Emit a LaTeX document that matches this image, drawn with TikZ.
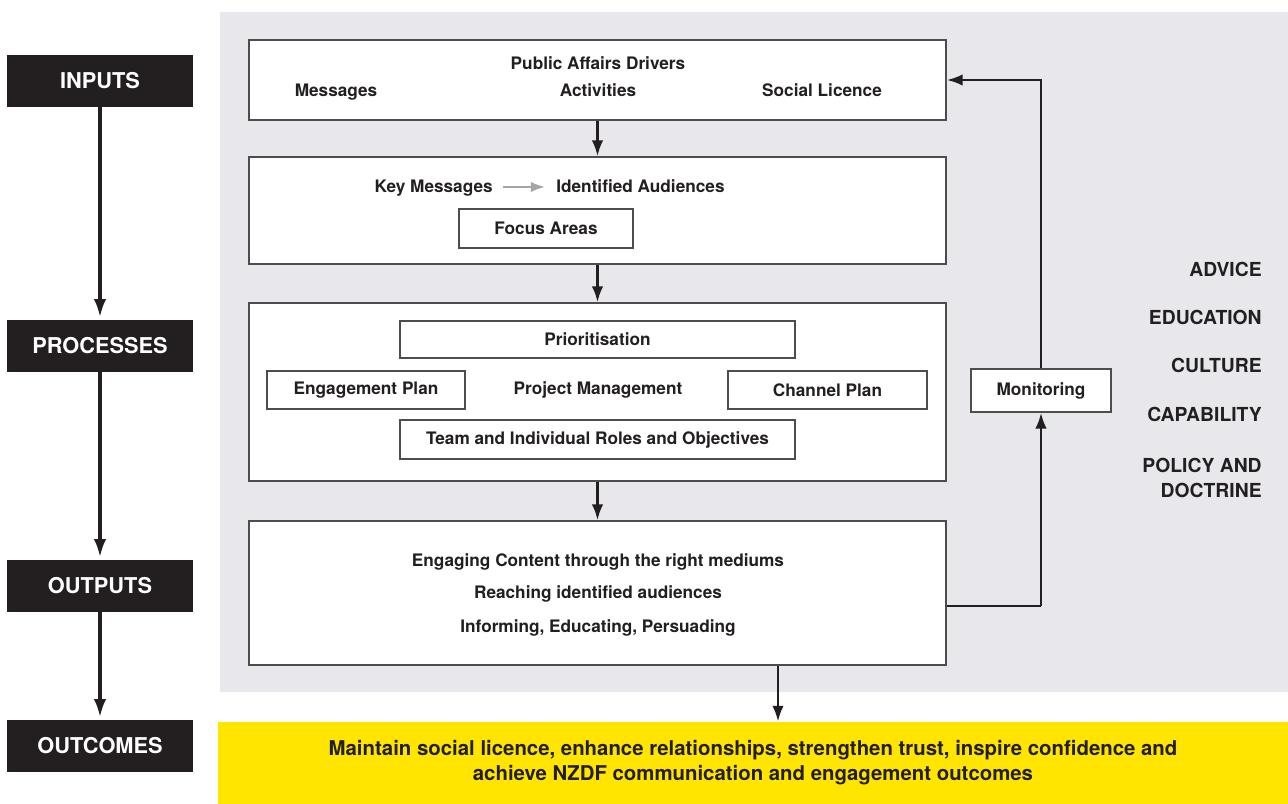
\documentclass[tikz,border=0pt]{standalone}
\usepackage{fontspec}
\setmainfont{TeX Gyre Heros}
\usetikzlibrary{arrows.meta,positioning}

\definecolor{panelgray}{HTML}{E8E8EC}
\definecolor{nzyellow}{HTML}{FFE500}
\definecolor{ink}{HTML}{231F20}
\newlength\px \setlength\px{0.02cm}

\begin{document}
\begin{tikzpicture}[x=0.02cm, y=-0.02cm,
  stage/.style={fill=ink, text=white, font=\fontsize{12.4}{14}\selectfont\bfseries,
    minimum width=186\px, minimum height=52\px, inner sep=0pt},
  block/.style={draw=ink!80, line width=0.8pt, fill=white, minimum width=697\px, inner sep=0pt},
  item/.style={draw=ink!80, line width=0.8pt, fill=white, inner sep=0pt, text=ink,
    font=\fontsize{9.8}{12}\selectfont\bfseries},
  txt/.style={font=\fontsize{9.8}{12}\selectfont\bfseries, text=ink, inner sep=0pt,
    text height=1.6ex, text depth=0.45ex},
  theme/.style={anchor=east, align=right, font=\fontsize{11}{14.2}\selectfont\bfseries, text=ink, inner sep=0pt},
  flow/.style={-{Latex[length=9pt,width=6.5pt]}, line width=1.5pt, draw=ink},
  spine/.style={-{Latex[length=10.5pt,width=7pt]}, line width=2.2pt, draw=ink, shorten >=2\px}]
  \useasboundingbox (0,0) rectangle (1288,804);

  % --- 1. Background panel and outcome band ---
  \fill[panelgray] (220,12) rectangle (1288,692);
  \node[fill=nzyellow, minimum width=1070\px, minimum height=82\px, inner sep=0pt,
    align=center, text=ink, font=\fontsize{11.6}{14.2}\selectfont\bfseries] (goal) at (753,763)
    {Maintain social licence, enhance relationships, strengthen trust, inspire confidence and\\
     achieve NZDF communication and engagement outcomes};

  % --- 2. Stage labels on the left ---
  \node[stage] (inp)  at (100,81)  {INPUTS};
  \node[stage] (proc) at (100,346) {PROCESSES};
  \node[stage] (outp) at (100,586) {OUTPUTS};
  \node[stage] (outc) at (100,746) {OUTCOMES};
  \draw[spine] (inp) -- (proc);
  \draw[spine] (proc) -- (outp);
  \draw[spine] (outp) -- (outc);

  % --- 3. Main blocks ---
  \node[block, minimum height=80\px]  (drivers) at (597.5,80) {};
  \node[block, minimum height=107\px] (focus)   at (597.5,210.5) {};
  \node[block, minimum height=178\px] (plan)    at (597.5,392) {};
  \node[block, minimum height=144\px] (content) at (597.5,593) {};

  % inputs
  \node[txt] (pad) at (598,64) {Public Affairs Drivers};
  \node[txt] (msg) at (336,91) {Messages};
  \node[txt] (act) at (598,91) {Activities};
  \node[txt] (lic) at (822,91) {Social Licence};

  % key messages to audiences
  \node[txt, anchor=east] (keym) at (493,187) {Key Messages};
  \node[txt, anchor=west] (aud)  at (556,187) {Identified Audiences};
  \draw[-{Latex[length=8pt,width=6pt]}, line width=1.3pt, draw=gray!70,
    shorten <=10\px, shorten >=11\px] (keym) -- (aud);
  \node[item, minimum width=174\px, minimum height=39\px] (areas) at (546,228.5) {Focus Areas};

  % processes
  \node[item, minimum width=395\px, minimum height=37\px] (prio)  at (597.5,339.5) {Prioritisation};
  \node[item, minimum width=198\px, minimum height=38\px] (eng)   at (366,390) {Engagement Plan};
  \node[txt] (pm) at (598,389) {Project Management};
  \node[item, minimum width=199\px, minimum height=38\px] (chan)  at (827.5,390) {Channel Plan};
  \node[item, minimum width=395\px, minimum height=39\px] (roles) at (597.5,439.5) {Team and Individual Roles and Objectives};

  % outputs
  \node[txt] (l1) at (598,561) {Engaging Content through the right mediums};
  \node[txt] (l2) at (598,593) {Reaching identified audiences};
  \node[txt] (l3) at (598,627) {Informing, Educating, Persuading};

  \draw[flow] (drivers) -- (focus);
  \draw[flow] (focus) -- (plan);
  \draw[flow] (plan) -- (content);
  \coordinate (drop) at (778,0);
  \draw[flow] (content.south -| drop) -- (goal.north -| drop);

  % --- 4. Monitoring loop ---
  \node[item, minimum width=140\px, minimum height=43\px] (mon) at (1041,390.5) {Monitoring};
  \coordinate (fb) at (1041,606);
  \draw[flow, -] (content.east |- fb) -- (fb);
  \draw[flow] (fb) -- (mon.south);
  \draw[flow] (mon.north) |- (drivers.east);

  % --- 5. Themes on the right ---
  \node[theme] (adv) at (1262,269) {ADVICE};
  \node[theme] (edu) at (1262,317) {EDUCATION};
  \node[theme] (cul) at (1262,365) {CULTURE};
  \node[theme] (cap) at (1262,414) {CAPABILITY};
  \node[theme] (pol) at (1262,477.5) {POLICY AND\\DOCTRINE};
\end{tikzpicture}
\end{document}
